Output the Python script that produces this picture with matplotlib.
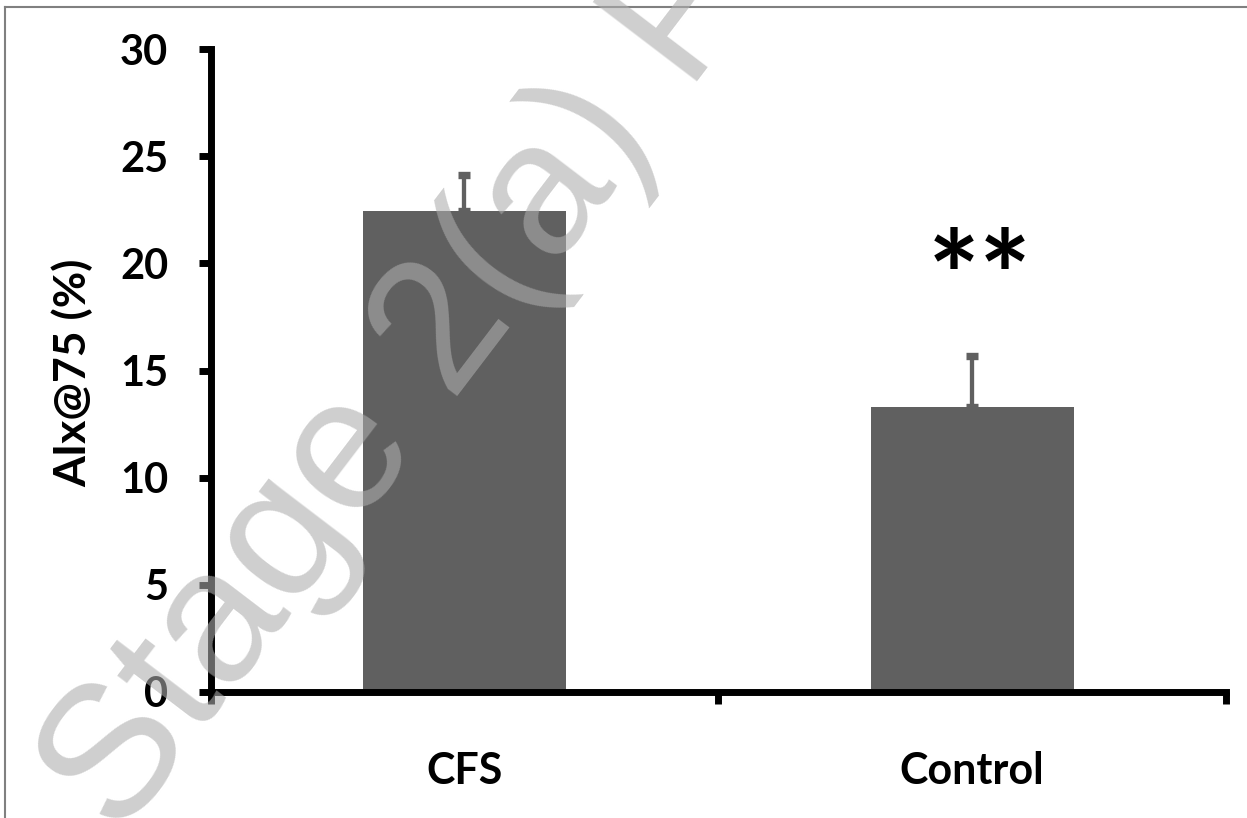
import matplotlib
matplotlib.use("Agg")
import matplotlib.pyplot as plt
from matplotlib.lines import Line2D

groups = ["CFS", "Control"]
aix_mean = [22.43, 13.30]   # AIx@75 (%)
aix_err = [1.71, 2.36]      # upper error only
sig_marks = ["", "**"]
y_ticks = [0, 5, 10, 15, 20, 25, 30]

plt.rcParams['font.family'] = ['Lato', 'DejaVu Sans']
plt.rcParams['font.weight'] = 'bold'

W, H = 1247, 818
fig = plt.figure(figsize=(W / 100, H / 100), dpi=100)
fig.patch.set_facecolor('white')

# axes placed to match the reference pixel layout
x0, x1, y0, y1 = 210.5, 1226, 691.6, 49.4
ax = fig.add_axes([x0 / W, 1 - y0 / H, (x1 - x0) / W, (y0 - y1) / H])

xpos = list(range(len(groups)))
bar_col = '#606060'
ax.bar(xpos, aix_mean, width=0.4, color=bar_col, zorder=2)
ax.errorbar(xpos, aix_mean, yerr=[[0] * len(aix_err), aix_err], fmt='none',
            ecolor=bar_col, elinewidth=3.1, capsize=4.2, capthick=5.3, zorder=3)

for xi, s in zip(xpos, sig_marks):
    if s:
        ax.text(xi + 0.016, 19.0, s, ha='center', va='center',
                fontsize=88, fontweight='bold', color='black')

ax.set_xlim(-0.5, len(groups) - 0.5)
ax.set_ylim(0, 30)
ax.set_yticks(y_ticks)
ax.set_yticklabels([str(t) for t in y_ticks])

# group separators as major ticks, names as minor ticks
ax.set_xticks([i - 0.5 for i in range(len(groups) + 1)])
ax.set_xticklabels([])
ax.set_xticks(xpos, minor=True)
ax.set_xticklabels(groups, minor=True)

for sp in ['top', 'right']:
    ax.spines[sp].set_visible(False)
for sp in ['left', 'bottom']:
    ax.spines[sp].set_linewidth(5)
    ax.spines[sp].set_color('black')

ax.tick_params(axis='y', direction='out', length=8.5, width=5, pad=22, labelsize=30)
ax.tick_params(axis='x', which='major', direction='out', length=8.5, width=5)
ax.tick_params(axis='x', which='minor', length=0, pad=43, labelsize=31)

fig.text(72 / W, 1 - 373 / H, "AIx@75 (%)", rotation=90, ha='center', va='center',
         fontsize=32, fontweight='bold')

# frame lines (top and left)
fig.add_artist(Line2D([5 / W, 5 / W], [0, 1 - 7 / H], transform=fig.transFigure,
                      color='#808080', lw=1.5))
fig.add_artist(Line2D([5 / W, 1], [1 - 7 / H, 1 - 7 / H], transform=fig.transFigure,
                      color='#808080', lw=1.5))

# watermark
fig.text(120 / W, 1 - 839 / H, "Stage 2(a) POST-PRINT", rotation=52.7,
         rotation_mode='anchor', ha='left', va='baseline', fontsize=136.5,
         family='Liberation Sans', fontweight='normal',
         color=(173 / 255, 173 / 255, 173 / 255), alpha=0.59, zorder=10)

fig.savefig("out.png", dpi=100)
